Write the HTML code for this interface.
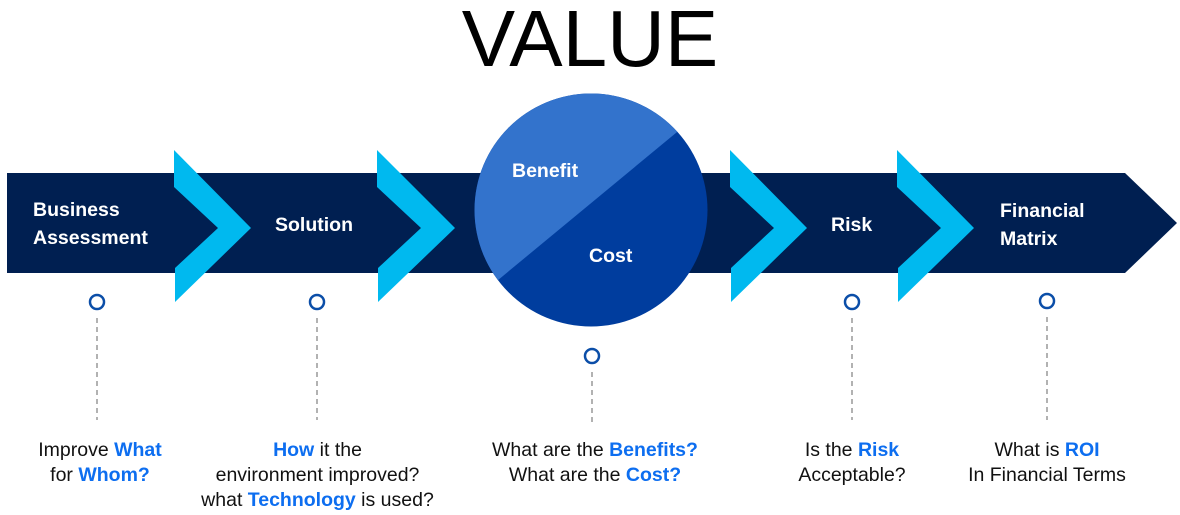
<!DOCTYPE html>
<html><head><style>
body{margin:0;width:1180px;height:515px;background:#fff;overflow:hidden;font-family:"Liberation Sans",sans-serif;position:relative}
.t{position:absolute;text-align:center;font-size:19.5px;line-height:25px;color:#111;white-space:nowrap}
.t b{color:#0d6ef0}
.lab{position:absolute;color:#fff;font-weight:bold;font-size:19.5px;line-height:28px}
</style></head><body>
<div style="position:absolute;left:0;width:1180px;top:-7px;text-align:center;font-size:80px;letter-spacing:0px;color:#000">VALUE</div>
<svg width="1180" height="515" style="position:absolute;left:0;top:0">
<polygon points="7,173 1125,173 1177,223 1125,273 7,273" fill="#001f51"/>
<g fill="#00b9ef">
<polygon points="174,150 251,228 175,302 175,268 218,228 174,187"/>
<polygon points="377,150 455,228 378,302 378,268 421,228 377,187"/>
<polygon points="730,150 807,228 731,302 731,268 774,228 730,187"/>
<polygon points="897,150 974,228 898,302 898,268 941,228 897,187"/>
</g>
<defs><clipPath id="c"><circle cx="591" cy="210" r="116.5"/></clipPath></defs>
<g clip-path="url(#c)">
<rect x="470" y="90" width="245" height="245" fill="#003d9e"/>
<polygon points="440,328 740,80 440,80" fill="#3373cc"/>
</g>
<g fill="none" stroke="#0b4ea8" stroke-width="2.5">
<circle cx="97" cy="302" r="7"/><circle cx="317" cy="302" r="7"/><circle cx="592" cy="356" r="7"/><circle cx="852" cy="302" r="7"/><circle cx="1047" cy="301" r="7"/>
</g>
<g stroke="#999" stroke-width="1.5" stroke-dasharray="5,4">
<line x1="97" y1="318" x2="97" y2="420"/><line x1="317" y1="318" x2="317" y2="420"/><line x1="592" y1="372" x2="592" y2="425"/><line x1="852" y1="318" x2="852" y2="420"/><line x1="1047" y1="317" x2="1047" y2="420"/>
</g>
</svg>
<div class="lab" style="left:33px;top:196px">Business<br>Assessment</div>
<div class="lab" style="left:275px;top:211px">Solution</div>
<div class="lab" style="left:512px;top:157px">Benefit</div>
<div class="lab" style="left:589px;top:242px">Cost</div>
<div class="lab" style="left:831px;top:211px">Risk</div>
<div class="lab" style="left:1000px;top:197px">Financial<br>Matrix</div>
<div class="t" style="left:0;width:200px;top:438px">Improve <b>What</b><br>for <b>Whom?</b></div>
<div class="t" style="left:180px;width:275px;top:438px"><b>How</b> it the<br>environment improved?<br>what <b>Technology</b> is used?</div>
<div class="t" style="left:450px;width:290px;top:438px">What are the <b>Benefits?</b><br>What are the <b>Cost?</b></div>
<div class="t" style="left:752px;width:200px;top:438px">Is the <b>Risk</b><br>Acceptable?</div>
<div class="t" style="left:937px;width:220px;top:438px">What is <b>ROI</b><br>In Financial Terms</div>
</body></html>
